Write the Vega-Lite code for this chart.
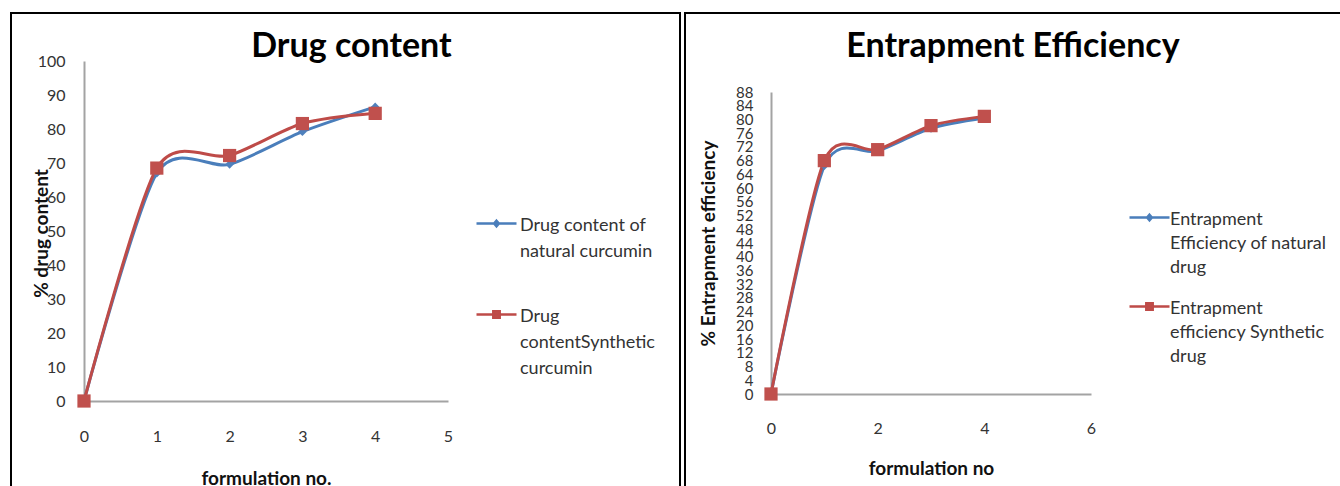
{
  "$schema": "https://vega.github.io/schema/vega-lite/v6.json",
  "background": "white",
  "padding": {"left": 10, "top": 12, "right": 0, "bottom": 0},
  "spacing": 5,
  "bounds": "flush",
  "datasets": {
    "drugContent": [
      {"formulation": 0, "series": "Drug content of natural curcumin", "value": 0},
      {"formulation": 1, "series": "Drug content of natural curcumin", "value": 67},
      {"formulation": 2, "series": "Drug content of natural curcumin", "value": 69.6},
      {"formulation": 3, "series": "Drug content of natural curcumin", "value": 79.2},
      {"formulation": 4, "series": "Drug content of natural curcumin", "value": 86.5},
      {"formulation": 0, "series": "Drug contentSynthetic curcumin", "value": 0},
      {"formulation": 1, "series": "Drug contentSynthetic curcumin", "value": 68.5},
      {"formulation": 2, "series": "Drug contentSynthetic curcumin", "value": 72.2},
      {"formulation": 3, "series": "Drug contentSynthetic curcumin", "value": 81.6},
      {"formulation": 4, "series": "Drug contentSynthetic curcumin", "value": 84.6}
    ],
    "entrapment": [
      {"formulation": 0, "series": "Entrapment Efficiency of natural drug", "value": 0},
      {"formulation": 1, "series": "Entrapment Efficiency of natural drug", "value": 66.5},
      {"formulation": 2, "series": "Entrapment Efficiency of natural drug", "value": 70.8},
      {"formulation": 3, "series": "Entrapment Efficiency of natural drug", "value": 77.4},
      {"formulation": 4, "series": "Entrapment Efficiency of natural drug", "value": 80.4},
      {"formulation": 0, "series": "Entrapment efficiency Synthetic drug", "value": 0},
      {"formulation": 1, "series": "Entrapment efficiency Synthetic drug", "value": 68},
      {"formulation": 2, "series": "Entrapment efficiency Synthetic drug", "value": 71.2},
      {"formulation": 3, "series": "Entrapment efficiency Synthetic drug", "value": 78.2},
      {"formulation": 4, "series": "Entrapment efficiency Synthetic drug", "value": 80.9}
    ]
  },
  "hconcat": [
    {
      "width": 669,
      "height": 480,
      "data": {"name": "drugContent"},
      "title": {"text": "Drug content", "offset": -78, "dx": 6, "baseline": "alphabetic"},
      "encoding": {
        "x": {
          "field": "formulation", "type": "quantitative",
          "scale": {"domain": [0, 5], "range": [73, 437], "nice": false, "zero": false},
          "axis": {
            "values": [0, 1, 2, 3, 4, 5], "offset": -92, "labelPadding": 27,
            "title": "formulation no.", "titleY": 77, "titleBaseline": "middle"
          }
        },
        "y": {
          "field": "value", "type": "quantitative",
          "scale": {"domain": [0, 100], "range": [388, 48], "nice": false, "zero": false},
          "axis": {
            "values": [0, 10, 20, 30, 40, 50, 60, 70, 80, 90, 100], "offset": -73, "labelPadding": 19,
            "title": "% drug content", "titleX": -43, "titleY": 220, "titleBaseline": "middle"
          }
        },
        "color": {
          "field": "series", "type": "nominal",
          "scale": {
            "domain": ["Drug content of natural curcumin", "Drug contentSynthetic curcumin"],
            "range": ["#4a7ebb", "#be4b48"]
          },
          "legend": {
            "orient": "none", "legendX": 464, "legendY": 189, "title": null, "padding": 0,
            "symbolSize": 1600, "labelOffset": 2, "labelLimit": 0, "rowPadding": 32,
            "labelBaseline": "alphabetic",
            "labelExpr": "datum.label == 'Drug content of natural curcumin' ? ['Drug content of', 'natural curcumin'] : ['Drug', 'contentSynthetic', 'curcumin']",
            "encode": {
              "symbols": {"update": {
                "shape": {"signal": "datum.value == 'Drug content of natural curcumin' ? 'M-1,0L1,0M0,-0.14L0.12,0L0,0.14L-0.12,0Z' : 'M-1,0L1,0M-0.16,-0.16L0.16,-0.16L0.16,0.16L-0.16,0.16Z'"},
                "fill": {"signal": "datum.value == 'Drug content of natural curcumin' ? '#4f81bd' : '#c0504d'"},
                "stroke": {"signal": "datum.value == 'Drug content of natural curcumin' ? '#4a7ebb' : '#be4b48'"},
                "strokeWidth": {"value": 2.5},
                "opacity": {"value": 1}
              }},
              "labels": {"update": {"lineHeight": {"value": 26}, "dy": {"value": 7}}}
            }
          }
        }
      },
      "layer": [
        {"mark": {"type": "line", "interpolate": "cardinal", "tension": 0.2, "strokeWidth": 3}},
        {
          "mark": {"type": "point", "filled": true, "opacity": 1},
          "encoding": {
            "shape": {"field": "series", "type": "nominal", "scale": {"range": ["diamond", "square"]}, "legend": null},
            "size": {"field": "series", "type": "nominal", "scale": {"range": [75, 175]}, "legend": null},
            "fill": {"field": "series", "type": "nominal", "scale": {"range": ["#4f81bd", "#c0504d"]}, "legend": null}
          }
        }
      ]
    },
    {
      "width": 666,
      "height": 480,
      "data": {"name": "entrapment"},
      "title": {"text": "Entrapment Efficiency", "offset": -78, "dx": -5, "baseline": "alphabetic"},
      "encoding": {
        "x": {
          "field": "formulation", "type": "quantitative",
          "scale": {"domain": [0, 6], "range": [86, 406], "nice": false, "zero": false},
          "axis": {
            "values": [0, 2, 4, 6], "offset": -99, "labelPadding": 26,
            "title": "formulation no", "titleY": 74, "titleBaseline": "middle"
          }
        },
        "y": {
          "field": "value", "type": "quantitative",
          "scale": {"domain": [0, 88], "range": [381, 79], "nice": false, "zero": false},
          "axis": {
            "values": [0, 4, 8, 12, 16, 20, 24, 28, 32, 36, 40, 44, 48, 52, 56, 60, 64, 68, 72, 76, 80, 84, 88],
            "offset": -86, "labelPadding": 18, "labelFontSize": 15,
            "title": "% Entrapment efficiency", "titleX": -63, "titleY": 230, "titleBaseline": "middle"
          }
        },
        "color": {
          "field": "series", "type": "nominal",
          "scale": {
            "domain": ["Entrapment Efficiency of natural drug", "Entrapment efficiency Synthetic drug"],
            "range": ["#4a7ebb", "#be4b48"]
          },
          "legend": {
            "orient": "none", "legendX": 443, "legendY": 183, "title": null, "padding": 0,
            "symbolSize": 1600, "labelOffset": -1, "labelLimit": 0, "rowPadding": 8,
            "labelBaseline": "alphabetic",
            "labelExpr": "datum.label == 'Entrapment Efficiency of natural drug' ? ['Entrapment', 'Efficiency of natural', 'drug'] : ['Entrapment', 'efficiency Synthetic', 'drug']",
            "encode": {
              "symbols": {"update": {
                "shape": {"signal": "datum.value == 'Entrapment Efficiency of natural drug' ? 'M-1,0L1,0M0,-0.14L0.12,0L0,0.14L-0.12,0Z' : 'M-1,0L1,0M-0.16,-0.16L0.16,-0.16L0.16,0.16L-0.16,0.16Z'"},
                "fill": {"signal": "datum.value == 'Entrapment Efficiency of natural drug' ? '#4f81bd' : '#c0504d'"},
                "stroke": {"signal": "datum.value == 'Entrapment Efficiency of natural drug' ? '#4a7ebb' : '#be4b48'"},
                "strokeWidth": {"value": 2.5},
                "opacity": {"value": 1}
              }},
              "labels": {"update": {"lineHeight": {"value": 24}, "dy": {"value": 7}}}
            }
          }
        }
      },
      "layer": [
        {"mark": {"type": "line", "interpolate": "cardinal", "tension": 0.2, "strokeWidth": 3}},
        {
          "mark": {"type": "point", "filled": true, "opacity": 1},
          "encoding": {
            "shape": {"field": "series", "type": "nominal", "scale": {"range": ["diamond", "square"]}, "legend": null},
            "size": {"field": "series", "type": "nominal", "scale": {"range": [75, 175]}, "legend": null},
            "fill": {"field": "series", "type": "nominal", "scale": {"range": ["#4f81bd", "#c0504d"]}, "legend": null}
          }
        }
      ]
    }
  ],
  "resolve": {"scale": {"x": "independent", "y": "independent", "color": "independent", "shape": "independent", "size": "independent", "fill": "independent"}, "legend": {"color": "independent"}},
  "config": {
    "font": "Lato",
    "view": {"stroke": "#000000", "strokeWidth": 2},
    "title": {"font": "Lato", "fontSize": 34, "fontWeight": "bold", "color": "#000000", "anchor": "middle", "frame": "group"},
    "axis": {
      "domainColor": "#a3a3a3", "domainWidth": 2, "ticks": false, "grid": false,
      "labelFont": "Lato", "labelFontSize": 16, "labelColor": "#333333",
      "labelOverlap": false, "labelFlush": false, "labelBound": false,
      "titleFont": "Lato", "titleFontSize": 19, "titleFontWeight": "bold", "titleColor": "#111111"
    },
    "legend": {"labelFont": "Lato", "labelFontSize": 18, "labelColor": "#333333", "gridAlign": "each"}
  }
}
